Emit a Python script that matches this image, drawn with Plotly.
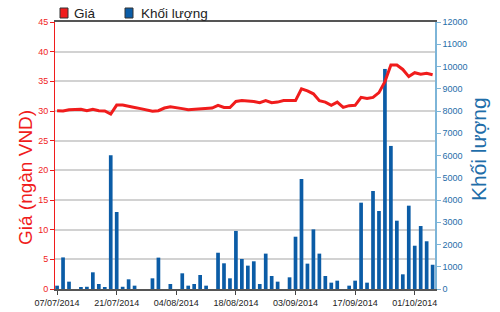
import pandas as pd
import plotly.graph_objects as go

# Trading days (07/07/2014 .. 06/10/2014), market closed 01-02/09/2014
holidays = ["2014-09-01", "2014-09-02"]
days = [d for d in pd.bdate_range("2014-07-07", "2014-10-06") if d.strftime("%Y-%m-%d") not in holidays]
dates = [d.strftime("%d/%m/%Y") for d in days]

price = [30.05, 30.0, 30.2, 30.3, 30.3, 30.05, 30.3, 30.05, 30.0, 29.5,
         31.0, 31.0, 30.85, 30.6, 30.4, 30.2, 29.95, 30.05, 30.5, 30.7,
         30.6, 30.4, 30.2, 30.3, 30.4, 30.5, 30.5, 30.95, 30.6, 30.6,
         31.6, 31.75, 31.7, 31.6, 31.4, 31.75, 31.4, 31.5, 31.75, 31.75,
         31.75, 33.75, 33.4, 32.9, 31.75, 31.5, 30.95, 31.5, 30.6, 30.9,
         30.95, 32.3, 32.1, 32.3, 33.1, 34.95, 37.75, 37.75, 37.0, 35.8,
         36.45, 36.2, 36.35, 36.1]

volume = [150, 1420, 330, 0, 60, 100, 750, 225, 60, 6010,
          3460, 100, 435, 150, 0, 0, 480, 1410, 0, 225,
          0, 705, 150, 225, 630, 150, 0, 1630, 1155, 480,
          2610, 1350, 1050, 1245, 225, 1590, 585, 330, 0, 525,
          2350, 4945, 1140, 2680, 1590, 585, 285, 375, 0, 150,
          375, 3880, 285, 4405, 3505, 9890, 6430, 3070, 660, 3745,
          1945, 2830, 2145, 1090]

tick_dates = ["07/07/2014", "21/07/2014", "04/08/2014", "18/08/2014",
              "03/09/2014", "17/09/2014", "01/10/2014"]

series_names = ["Giá", "Khối lượng"]
axis_titles = ["Giá (ngàn VND)", "Khối lượng"]

RED = "#f01c1c"
BLUE_BAR = "#0b5ca6"
BLUE_TXT = "#1f6ea9"
BLUE_AX = "#7db5d8"
FONT = "Liberation Sans, Arial, sans-serif"

fig = go.Figure()
fig.add_trace(go.Bar(x=dates, y=volume, name=series_names[1], width=0.62,
                     marker=dict(color=BLUE_BAR, line=dict(width=0)), yaxis="y"))
fig.add_trace(go.Scatter(x=dates, y=price, name=series_names[0], mode="lines",
                         line=dict(color=RED, width=3), yaxis="y2"))

# pixel -> paper helpers for legend / titles
L, R, T, B = 55, 435, 22, 289
def px(xp): return (xp - L) / (R - L)
def py(yp): return (B - yp) / (B - T)

shapes = []
annotations = []
for name, color, x0, xt in [(series_names[0], RED, 60, 72), (series_names[1], BLUE_BAR, 125, 139)]:
    shapes.append(dict(type="rect", xref="paper", yref="paper",
                       x0=px(x0), x1=px(x0 + 8), y0=py(18), y1=py(8),
                       fillcolor=color, line=dict(color="#333", width=1)))
    annotations.append(dict(text=name, xref="paper", yref="paper", x=px(xt), y=py(13.5),
                            xanchor="left", yanchor="middle", showarrow=False,
                            font=dict(size=13.5, color="#222", family=FONT)))

# axis titles
annotations.append(dict(text=axis_titles[0], xref="paper", yref="paper", x=px(25), y=py(178),
                        xanchor="center", yanchor="middle", textangle=-90, showarrow=False,
                        font=dict(size=19, color=RED, family=FONT)))
annotations.append(dict(text=axis_titles[1], xref="paper", yref="paper", x=px(478), y=py(149),
                        xanchor="center", yanchor="middle", textangle=-90, showarrow=False,
                        font=dict(size=21, color=BLUE_TXT, family=FONT)))

fig.update_layout(
    width=500, height=312,
    margin=dict(l=L, r=500 - R, t=T, b=312 - B, autoexpand=False),
    paper_bgcolor="white", plot_bgcolor="white",
    font=dict(family=FONT, size=9, color="#222"),
    showlegend=False,
    shapes=shapes, annotations=annotations,
    xaxis=dict(type="category", range=[-0.35, 63.4], tickvals=tick_dates, ticktext=tick_dates,
               ticks="outside", ticklen=4, tickcolor="#444", showline=True, linecolor="#555",
               linewidth=1.5, mirror=True, showgrid=False, tickfont=dict(size=9, color="#222"),
               anchor="y"),
    yaxis=dict(side="right", range=[0, 12000], dtick=1000, tickformat="d", showgrid=False, zeroline=False,
               showline=True, linecolor=BLUE_AX, linewidth=1.5, ticks="outside", ticklen=4,
               tickcolor=BLUE_AX, tickfont=dict(size=9, color=BLUE_TXT)),
    yaxis2=dict(side="left", overlaying="y", range=[0, 45], dtick=5, showgrid=True,
                gridcolor="#d2d2d2", gridwidth=1.5, zeroline=False, showline=True,
                linecolor=RED, linewidth=1, ticks="outside", ticklen=4, tickcolor=RED,
                tickfont=dict(size=9, color=RED)),
)

fig.write_html("out.html")
